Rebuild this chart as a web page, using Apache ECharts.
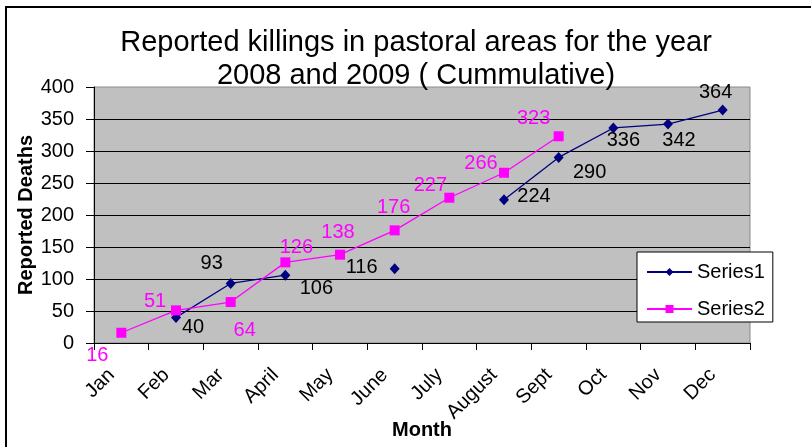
<!DOCTYPE html>
<html>
<head>
<meta charset="utf-8">
<script src="https://cdn.jsdelivr.net/npm/echarts@6/dist/echarts.min.js"></script>
<style>
  html, body { margin: 0; padding: 0; background: #fff; }
  #main { width: 811px; height: 447px; }
</style>
</head>
<body>
<div id="main"></div>
<script>
var months = ["Jan", "Feb", "Mar", "April", "May", "June", "July", "August", "Sept", "Oct", "Nov", "Dec"];
var series1 = [null, 40, 93, 106, null, 116, null, 224, 290, 336, 342, 364];
var series2 = [16, 51, 64, 126, 138, 176, 227, 266, 323, null, null, null];
var chartTitle = "Reported killings in pastoral areas for the year\n2008 and 2009 ( Cummulative)";

// where each data label sits relative to its point (manual placement as in the original)
var offsets1 = [null, [17, 10], [-19, -20], [31, 13], null, [-33, -1], null, [30, -3], [31, 15], [10, 13], [11, 16], [-7, -18]];
var offsets2 = [[-24, 23], [-21, -9], [14, 28], [11, -15], [-2, -22], [-1, -23], [-19, -12], [-23, -9], [-25, -18], null, null, null];

var font = "'Liberation Sans', Arial, sans-serif";

function buildData(values, offs) {
    return values.map(function (v, i) {
        if (v == null) return '-';
        return { value: v, label: { offset: offs[i] } };
    });
}

var myChart = echarts.init(document.getElementById("main"));
var option = {
    animation: false,
    textStyle: { fontFamily: font },
    legend: {
        orient: 'vertical',
        left: 637,
        top: 252,
        padding: [10, 8, 3, 9],
        itemGap: 17,
        itemWidth: 45,
        itemHeight: 10,
        backgroundColor: '#fff',
        borderColor: '#000',
        borderWidth: 1,
        borderRadius: 0,
        textStyle: { fontFamily: font, fontSize: 20, color: '#000' },
        data: ['Series1', 'Series2']
    },
    grid: {
        left: 94,
        right: 61,
        top: 87,
        bottom: 104,
        outerBoundsMode: 'none',
        show: true,
        backgroundColor: '#c0c0c0',
        borderColor: '#8a8a8a',
        borderWidth: 1
    },
    xAxis: {
        type: 'category',
        data: months,
        boundaryGap: true,
        name: 'Month',
        nameLocation: 'middle',
        nameGap: 77,
        nameMoveOverlap: false,
        nameTextStyle: { fontFamily: font, fontSize: 20, fontWeight: 'bold', color: '#000' },
        axisLine: { lineStyle: { color: '#000', width: 1 } },
        axisTick: { show: true, length: 7, lineStyle: { color: '#000' } },
        axisLabel: {
            rotate: 45, margin: 19, padding: [0, 14, 0, 0],
            fontSize: 20, color: '#000', interval: 0, fontFamily: font
        }
    },
    yAxis: {
        type: 'value',
        min: 0,
        max: 400,
        interval: 50,
        name: 'Reported Deaths',
        nameLocation: 'middle',
        nameGap: 58,
        nameMoveOverlap: false,
        nameTextStyle: { fontFamily: font, fontSize: 20, fontWeight: 'bold', color: '#000' },
        axisLine: { show: true, lineStyle: { color: '#000', width: 1 } },
        axisTick: { show: true, length: 8, lineStyle: { color: '#000' } },
        axisLabel: { margin: 20, fontSize: 20, color: '#000', fontFamily: font },
        splitLine: { show: true, showMaxLine: false, lineStyle: { color: '#000', width: 1 } }
    },
    series: [
        {
            name: 'Series1',
            type: 'line',
            data: buildData(series1, offsets1),
            connectNulls: false,
            showAllSymbol: true,
            symbol: 'diamond',
            symbolSize: [10, 11],
            color: '#000080',
            lineStyle: { color: '#000080', width: 1.3 },
            itemStyle: { color: '#000080' },
            label: { show: true, position: 'inside', fontSize: 20, color: '#000', fontFamily: font }
        },
        {
            name: 'Series2',
            type: 'line',
            data: buildData(series2, offsets2),
            connectNulls: false,
            showAllSymbol: true,
            symbol: 'rect',
            symbolSize: 10,
            color: '#ff00ff',
            lineStyle: { color: '#ff00ff', width: 1.3 },
            itemStyle: { color: '#ff00ff' },
            label: { show: true, position: 'inside', fontSize: 20, color: '#ff00ff', fontFamily: font }
        }
    ],
    graphic: [
        {
            type: 'polyline',
            shape: { points: [[6, 447], [6, 7], [811, 7]] },
            style: { stroke: '#000', lineWidth: 2, fill: null },
            silent: true
        },
        {
            type: 'text',
            x: 416,
            y: 26,
            silent: true,
            style: {
                text: chartTitle,
                align: 'center',
                verticalAlign: 'top',
                fontFamily: font,
                fontSize: 29,
                lineHeight: 33,
                fill: '#000'
            }
        }
    ]
};
myChart.setOption(option);
</script>
</body>
</html>
